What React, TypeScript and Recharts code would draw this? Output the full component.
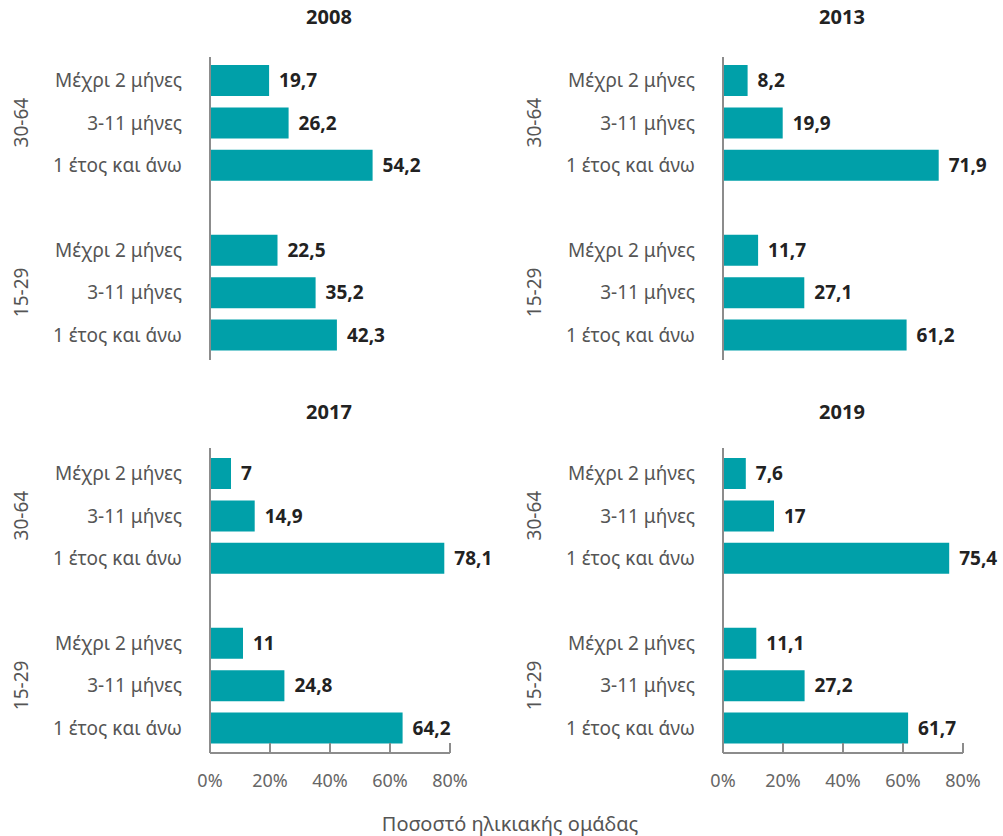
import React from 'react';
import { BarChart, Bar, XAxis, YAxis, LabelList } from 'recharts';

const categories = ['Μέχρι 2 μήνες', '3-11 μήνες', '1 έτος και άνω'];
const ageGroups = ['30-64', '15-29'];
const years = ['2008', '2013', '2017', '2019'];
const values2008 = [19.7, 26.2, 54.2, 22.5, 35.2, 42.3];
const values2013 = [8.2, 19.9, 71.9, 11.7, 27.1, 61.2];
const values2017 = [7, 14.9, 78.1, 11, 24.8, 64.2];
const values2019 = [7.6, 17, 75.4, 11.1, 27.2, 61.7];
const xTicks = [0, 20, 40, 60, 80];
const xTickLabels = ['0%', '20%', '40%', '60%', '80%'];
const axisTitle = 'Ποσοστό ηλικιακής ομάδας';

const FONT = '"Noto Sans", "DejaVu Sans", sans-serif';
const BAR = '#00a0a9';
const AXIS = '#8c8c8c';
const LABEL_GREY = '#555555';

type Row = { key: string; value: number | null };

function buildRows(values: number[]): Row[] {
  const rows: Row[] = [];
  ageGroups.forEach((g, gi) => {
    if (gi > 0) rows.push({ key: 'gap', value: null });
    categories.forEach((c, ci) => {
      rows.push({ key: `${g}|${c}`, value: values[gi * categories.length + ci] });
    });
  });
  return rows;
}

const YTick = (props: any) => {
  const { x, y, payload } = props;
  const parts = String(payload.value).split('|');
  if (parts.length < 2) return <g />;
  const [g, c] = parts;
  const isMid = c === categories[1];
  return (
    <g>
      <text x={x} y={y} textAnchor="end" dominantBaseline="central" fill={LABEL_GREY} fontSize={19} fontFamily={FONT}>
        {c}
      </text>
      {isMid && (
        <text
          transform={`translate(${x - 161},${y}) rotate(-90)`}
          textAnchor="middle"
          dominantBaseline="central"
          fill={LABEL_GREY}
          fontSize={19}
          fontFamily={FONT}
        >
          {g}
        </text>
      )}
    </g>
  );
};

const XTick = (props: any) => {
  const { x, y, payload } = props;
  const idx = xTicks.indexOf(payload.value);
  return (
    <g>
      <line x1={x} x2={x} y1={y - 10} y2={y} stroke={AXIS} strokeWidth={2} />
      <text x={x} y={y + 27} textAnchor="middle" dominantBaseline="central" fill="#666" fontSize={18} fontFamily={FONT}>
        {idx >= 0 ? xTickLabels[idx] : ''}
      </text>
    </g>
  );
};

const fmt = (v: any) => (v === null || v === undefined ? '' : String(v).replace('.', ','));

function Panel({ values, bottom, width }: { values: number[]; bottom: boolean; width: number }) {
  const data = buildRows(values);
  return (
    <BarChart
      width={width}
      height={400}
      data={data}
      layout="vertical"
      margin={bottom ? { top: 53, right: width - 450, bottom: 0, left: 0 } : { top: 57, right: width - 450, bottom: 40, left: 0 }}
    >
      <XAxis
        type="number"
        domain={[0, 80]}
        ticks={xTicks}
        hide={!bottom}
        height={42}
        axisLine={{ stroke: AXIS, strokeWidth: 2 }}
        tickLine={false}
        tickSize={0}
        tickMargin={0}
        tick={<XTick />}
        interval={0}
        allowDataOverflow
      />
      <YAxis
        type="category"
        dataKey="key"
        width={210}
        axisLine={{ stroke: AXIS, strokeWidth: 2 }}
        tickLine={false}
        tickSize={0}
        tickMargin={28}
        tick={<YTick />}
        interval={0}
        padding={bottom ? { top: 4, bottom: 4 } : { top: 2, bottom: 4 }}
      />
      <Bar dataKey="value" fill={BAR} barSize={31} isAnimationActive={false}>
        <LabelList
          dataKey="value"
          position="right"
          offset={10}
          formatter={fmt}
          fill="#222"
          fontSize={19}
          fontWeight={700}
          fontFamily={FONT}
        />
      </Bar>
    </BarChart>
  );
}

const titleStyle = (left: number, top: number): React.CSSProperties => ({
  position: 'absolute',
  left: left - 60,
  top: top - 13,
  width: 120,
  height: 26,
  lineHeight: '26px',
  textAlign: 'center',
  fontFamily: FONT,
  fontWeight: 700,
  fontSize: 20,
  color: '#222',
});

export default function App() {
  const panels = [
    { values: values2008, left: 0, top: 0, bottom: false, w: 500 },
    { values: values2013, left: 513, top: 0, bottom: false, w: 490 },
    { values: values2017, left: 0, top: 395, bottom: true, w: 500 },
    { values: values2019, left: 513, top: 395, bottom: true, w: 490 },
  ];
  return (
    <div style={{ position: 'absolute', left: 0, top: 0, width: 1003, height: 836, background: '#fff', overflow: 'hidden' }}>
      {panels.map((p, i) => (
        <React.Fragment key={years[i]}>
          <div style={titleStyle(p.left + 329, p.top + 17)}>{years[i]}</div>
          <div style={{ position: 'absolute', left: p.left, top: p.top }}>
            <Panel values={p.values} bottom={p.bottom} width={p.w} />
          </div>
        </React.Fragment>
      ))}
      <div
        style={{
          position: 'absolute',
          left: 310,
          top: 810,
          width: 400,
          height: 28,
          lineHeight: '28px',
          textAlign: 'center',
          fontFamily: FONT,
          fontSize: 20,
          color: LABEL_GREY,
        }}
      >
        {axisTitle}
      </div>
    </div>
  );
}
